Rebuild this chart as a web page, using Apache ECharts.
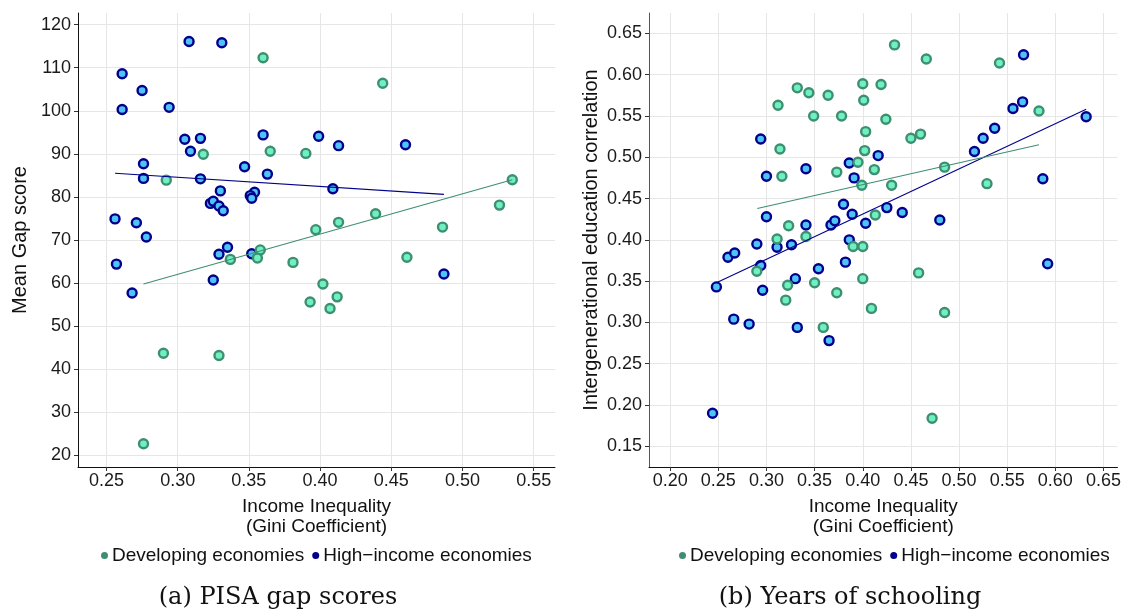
<!DOCTYPE html>
<html>
<head>
<meta charset="utf-8">
<script src="https://cdn.jsdelivr.net/npm/echarts@6/dist/echarts.min.js"></script>
<style>html,body{margin:0;padding:0;background:#fff;}#chart{width:1124px;height:615px;}</style>
</head>
<body>
<div id="chart"></div>
<script>
// ---- Panel (a): PISA gap scores ----
const gapHighGini  = [0.308,0.331,0.261,0.275,0.261,0.294,0.305,0.316,0.309,0.276,0.276,0.316,0.347,0.360,0.363,0.330,0.354,0.351,0.352,0.323,0.325,0.329,0.332,0.256,0.271,0.278,0.335,0.329,0.352,0.257,0.268,0.325,0.399,0.413,0.460,0.409,0.487];
const gapHighScore = [116.1,115.8,108.6,104.7,100.3,100.8,93.4,93.6,90.6,87.7,84.3,84.2,87.0,94.4,85.3,81.4,81.1,80.3,79.7,78.5,79.0,77.9,76.8,74.9,74.0,70.7,68.3,66.7,66.8,64.4,57.7,60.7,94.1,91.9,92.1,81.9,62.1];
const gapDevGini   = [0.360,0.444,0.318,0.365,0.390,0.292,0.535,0.526,0.439,0.413,0.397,0.486,0.358,0.337,0.356,0.381,0.461,0.402,0.393,0.412,0.407,0.290,0.329,0.276];
const gapDevScore  = [112.3,106.4,89.9,90.6,90.1,83.9,84.0,78.1,76.1,74.1,72.4,73.0,67.7,65.5,65.8,64.8,66.0,59.8,55.6,56.8,54.1,43.7,43.2,22.7];
const gapHighFitX  = [0.256, 0.487];
const gapHighFitY  = [85.5, 80.6];
const gapDevFitX   = [0.276, 0.535];
const gapDevFitY   = [59.8, 84.0];
const gapXTicks    = [0.25,0.30,0.35,0.40,0.45,0.50,0.55];
const gapYTicks    = [20,30,40,50,60,70,80,90,100,110,120];

// ---- Panel (b): Years of schooling ----
const schDevGini = [0.332,0.344,0.364,0.312,0.349,0.378,0.314,0.316,0.373,0.323,0.311,0.341,0.400,0.419,0.401,0.424,0.403,0.450,0.460,0.402,0.395,0.412,0.399,0.430,0.413,0.390,0.400,0.433,0.466,0.542,0.583,0.485,0.529,0.290,0.400,0.322,0.350,0.373,0.320,0.409,0.359,0.458,0.485,0.472];
const schDevCorr = [0.584,0.578,0.575,0.563,0.550,0.550,0.510,0.477,0.482,0.417,0.401,0.404,0.589,0.588,0.569,0.546,0.531,0.523,0.528,0.508,0.494,0.485,0.466,0.466,0.430,0.392,0.392,0.636,0.619,0.614,0.556,0.488,0.468,0.362,0.353,0.345,0.348,0.336,0.327,0.317,0.294,0.360,0.312,0.184];
const schHighGini = [0.294,0.300,0.341,0.386,0.300,0.380,0.341,0.367,0.371,0.389,0.290,0.311,0.326,0.386,0.416,0.391,0.425,0.441,0.403,0.567,0.556,0.566,0.632,0.537,0.525,0.516,0.587,0.480,0.260,0.267,0.294,0.382,0.354,0.248,0.330,0.296,0.266,0.282,0.332,0.365,0.592,0.244];
const schHighCorr = [0.522,0.477,0.486,0.493,0.428,0.443,0.418,0.418,0.423,0.431,0.395,0.391,0.394,0.400,0.502,0.475,0.439,0.433,0.420,0.624,0.559,0.567,0.549,0.535,0.523,0.507,0.474,0.424,0.379,0.384,0.369,0.373,0.365,0.343,0.353,0.339,0.304,0.298,0.294,0.278,0.371,0.190];
const schHighFitX = [0.248, 0.632];
const schHighFitY = [0.348, 0.558];
const schDevFitX  = [0.2905, 0.583];
const schDevFitY  = [0.438, 0.515];
const schXTicks   = [0.20,0.25,0.30,0.35,0.40,0.45,0.50,0.55,0.60,0.65];
const schYTicks   = [0.15,0.20,0.25,0.30,0.35,0.40,0.45,0.50,0.55,0.60,0.65];

const devName  = 'Developing economies';
const highName = 'High\u2212income economies';
const FONT = '"Liberation Sans", Arial, Helvetica, sans-serif';
const DEV_FILL = '#6ef0c0', DEV_EDGE = '#3e8e72', DEV_LINE = '#3e8e72';
const HI_FILL = '#4ec3f6', HI_EDGE = '#00008b', HI_LINE = '#00008b';

function pairs(xs, ys) { return xs.map((v, i) => [v, ys[i]]); }

function xAxis(idx, min, max, ticks, name) {
  return {
    type: 'value', gridIndex: idx, min: min, max: max,
    name: name, nameLocation: 'middle', nameGap: 30,
    nameTextStyle: { fontFamily: FONT, fontSize: 19, color: '#111', lineHeight: 20 },
    axisLine: { show: true, onZero: false, lineStyle: { color: '#111', width: 1 } },
    axisTick: { show: true, length: 4, customValues: ticks, lineStyle: { color: '#333' } },
    axisLabel: { customValues: ticks, margin: 5, fontFamily: FONT, fontSize: 18, color: '#1a1a1a',
                 formatter: v => Number(v).toFixed(2) },
    splitLine: { show: true, lineStyle: { color: '#e6e6e6', width: 1 } }
  };
}
function yAxis(idx, min, max, ticks, name, fmt, lineColor) {
  return {
    type: 'value', gridIndex: idx, min: min, max: max,
    name: name, nameLocation: 'middle', nameGap: 48, nameRotate: 90,
    nameTextStyle: { fontFamily: FONT, fontSize: 20, color: '#111' },
    axisLine: { show: true, onZero: false, lineStyle: { color: lineColor, width: 1 } },
    axisTick: { show: true, length: 4, customValues: ticks, lineStyle: { color: '#333' } },
    axisLabel: { customValues: ticks, margin: 7, fontFamily: FONT, fontSize: 18, color: '#1a1a1a', formatter: fmt },
    splitLine: { show: true, lineStyle: { color: '#e6e6e6', width: 1 } }
  };
}
function scatter(name, gi, xs, ys, fill, edge) {
  return {
    type: 'scatter', name: name, xAxisIndex: gi, yAxisIndex: gi,
    data: pairs(xs, ys), symbol: 'circle', symbolSize: 9,
    itemStyle: { color: fill, borderColor: edge, borderWidth: 2.4, opacity: 1 },
    emphasis: { disabled: true }, silent: true, z: 2
  };
}
function fit(gi, xs, ys, color) {
  return {
    type: 'line', xAxisIndex: gi, yAxisIndex: gi, data: pairs(xs, ys),
    symbol: 'none', lineStyle: { color: color, width: 1.1 }, silent: true, z: 3
  };
}
function legend(left) {
  return {
    left: left, top: 541, icon: 'circle', itemWidth: 7, itemHeight: 7, itemGap: 8,
    selectedMode: false,
    textStyle: { fontFamily: FONT, fontSize: 19, color: '#111', padding: [0, 0, 0, -1] },
    data: [
      { name: devName, itemStyle: { color: DEV_LINE, borderWidth: 0 } },
      { name: highName, itemStyle: { color: HI_LINE, borderWidth: 0 } }
    ]
  };
}

const chart = echarts.init(document.getElementById('chart'));
chart.setOption({
  animation: false,
  backgroundColor: '#fff',
  grid: [
    { left: 78, right: 569, top: 13, bottom: 148 },
    { left: 649, right: 6, top: 13, bottom: 148 }
  ],
  xAxis: [
    xAxis(0, 0.23, 0.565, gapXTicks, 'Income Inequality\n(Gini Coefficient)'),
    xAxis(1, 0.178, 0.6645, schXTicks, 'Income Inequality\n(Gini Coefficient)')
  ],
  yAxis: [
    yAxis(0, 17.3, 122.7, gapYTicks, 'Mean Gap score', v => String(Math.round(v)), '#111'),
    yAxis(1, 0.125, 0.6746, schYTicks, 'Intergenerational education correlation', v => Number(v).toFixed(2), '#555')
  ],
  legend: [legend(96), legend(674)],
  series: [
    scatter(highName, 0, gapHighGini, gapHighScore, HI_FILL, HI_EDGE),
    scatter(devName, 0, gapDevGini, gapDevScore, DEV_FILL, DEV_EDGE),
    fit(0, gapHighFitX, gapHighFitY, HI_LINE),
    fit(0, gapDevFitX, gapDevFitY, DEV_LINE),
    scatter(highName, 1, schHighGini, schHighCorr, HI_FILL, HI_EDGE),
    scatter(devName, 1, schDevGini, schDevCorr, DEV_FILL, DEV_EDGE),
    fit(1, schHighFitX, schHighFitY, HI_LINE),
    fit(1, schDevFitX, schDevFitY, DEV_LINE)
  ],
  graphic: [
    { type: 'text', x: 278, y: 598, silent: true,
      style: { text: '(a) PISA gap scores', font: '24px "DejaVu Serif", "Liberation Serif", serif',
               fill: '#111', align: 'center', verticalAlign: 'middle' } },
    { type: 'text', x: 850, y: 598, silent: true,
      style: { text: '(b) Years of schooling', font: '24px "DejaVu Serif", "Liberation Serif", serif',
               fill: '#111', align: 'center', verticalAlign: 'middle' } }
  ]
});
</script>
</body>
</html>
